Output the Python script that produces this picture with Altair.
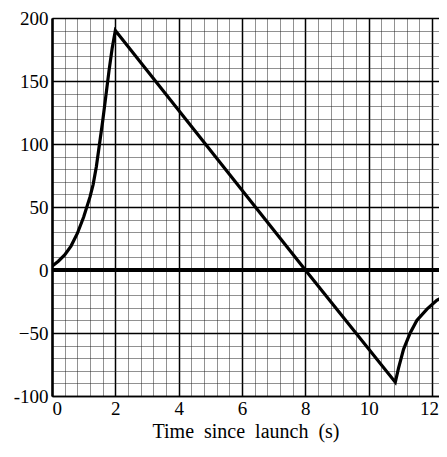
import altair as alt
import pandas as pd

# Data
t = [0, 0.2, 0.4, 0.6, 0.8, 1.0, 1.2, 1.3, 1.4, 1.5, 1.6, 1.7, 1.8, 1.9, 2.0,
     8.0, 10.84, 10.94, 11.1, 11.31, 11.52, 11.84, 12.15, 12.47]
v = [3, 7, 12, 19, 29, 42, 58, 68, 82, 100, 118, 138, 158, 176, 190,
     0, -89, -78, -63, -50, -40, -31, -24, -20]

x_major = [0, 2, 4, 6, 8, 10, 12]
y_major = [-100, -50, 0, 50, 100, 150, 200]
x_minor = [round(i * 0.4, 2) for i in range(0, 31)]
y_minor = list(range(-100, 201, 10))

df = pd.DataFrame({"t": t, "v": v})
FONT = "Liberation Serif"
NB = "\u00a0"

xs = alt.Scale(domain=[0, 12.22], nice=False, zero=False)
ys = alt.Scale(domain=[-100, 200], nice=False)

minor = alt.Chart(df).mark_line(opacity=0, clip=True).encode(
    x=alt.X("t:Q", scale=xs, axis=alt.Axis(orient="top", values=x_minor, labels=False,
                                            ticks=False, domain=False, title=None,
                                            grid=True, gridColor="#222", gridDash=[1, 1],
                                            gridWidth=1, gridOpacity=1)),
    y=alt.Y("v:Q", scale=ys, axis=alt.Axis(orient="right", values=y_minor, labels=False,
                                            ticks=False, domain=False, title=None,
                                            grid=True, gridColor="#222", gridDash=[1, 1],
                                            gridWidth=1, gridOpacity=1)),
)

major = alt.Chart(df).mark_line(color="black", strokeWidth=3.2, clip=True).encode(
    x=alt.X("t:Q", scale=xs, axis=alt.Axis(orient="bottom", values=x_major,
                                            title=f"Time{NB}{NB}since{NB}{NB}launch{NB}{NB}(s)",
                                            titleFont=FONT, titleFontSize=20,
                                            titleFontWeight="normal", titleColor="black",
                                            titlePadding=3,
                                            labelFont=FONT, labelFontSize=19,
                                            labelColor="black", labelPadding=3,
                                            labelOffset={"condition": {"test": "datum.value == 12", "value": -3}, "value": 0},
                                            ticks=False, domain=True, domainColor="black",
                                            domainWidth=1.5,
                                            grid=True, gridColor="black", gridWidth=1.5,
                                            gridOpacity=1)),
    y=alt.Y("v:Q", scale=ys, axis=alt.Axis(orient="left", values=y_major, title=None,
                                            labelFont=FONT, labelFontSize=19,
                                            labelColor="black", labelPadding=4,
                                            labelExpr="datum.value == -50 ? '\u221250' : (datum.value == -100 ? '-100' : datum.label)",
                                            ticks=False, domain=True, domainColor="black",
                                            domainWidth=2.5,
                                            grid=True, gridColor="black", gridWidth=1.5,
                                            gridOpacity=1)),
)

zero = alt.Chart(df).mark_rule(color="black", strokeWidth=2.5).encode(
    y=alt.datum(0, scale=ys, axis=None))

chart = alt.layer(minor, zero, major).resolve_axis(x="independent", y="independent").properties(
    width=387, height=378,
    autosize=alt.AutoSizeParams(type="none"),
    padding={"left": 44, "top": 10, "right": 0, "bottom": 47},
).configure_view(stroke=None).configure(background="white")

chart.save("out.html", embed_options={"renderer": "svg", "actions": False})
